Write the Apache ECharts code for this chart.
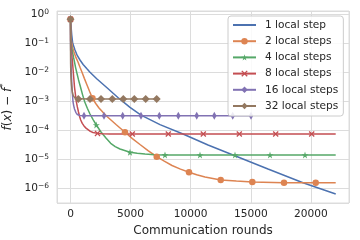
<!DOCTYPE html>
<html><head><meta charset="utf-8">
<script src="https://cdn.jsdelivr.net/npm/echarts@6/dist/echarts.min.js"></script>
<style>html,body{margin:0;padding:0;background:#fff}#c{width:360px;height:240px}</style>
</head><body><div id="c"></div>
<script>
const seriesNames = ['1 local step', '2 local steps', '4 local steps', '8 local steps', '16 local steps', '32 local steps'];
const xTicks = [0, 5000, 10000, 15000, 20000];

const x1 = [0, 100, 183, 374, 560, 790, 1050, 1348, 1622, 2205, 3012, 4035, 4950, 5866, 7446, 9360, 11440, 13520, 16430, 19340, 22065];
const y1 = [0.672, 0.2, 0.0995, 0.0585, 0.038, 0.0264, 0.0185, 0.0134, 0.0100, 0.00582, 0.00296, 0.00124, 6.10e-4, 3.30e-4, 1.55e-4, 7.33e-5, 3.06e-5, 1.38e-5, 4.53e-6, 1.52e-6, 6.21e-7];
const m1 = [];

const x2 = [0, 30, 67, 160, 291, 450, 624, 790, 957, 1160, 1373, 1600, 1830, 2100, 2371, 2700, 3037, 3786, 4534, 5150, 5782, 6450, 7172, 7800, 8445, 9150, 9859, 10500, 11190, 12497, 13800, 15126, 17763, 20401, 22065];
const y2 = [0.672, 0.25, 0.129, 0.075, 0.0499, 0.0325, 0.0225, 0.0148, 0.00993, 0.0060, 0.00361, 0.0021, 0.00125, 8.3e-4, 5.80e-4, 4.1e-4, 2.95e-4, 1.56e-4, 8.39e-5, 5.1e-5, 3.18e-5, 1.95e-5, 1.21e-5, 8.5e-6, 5.98e-6, 4.5e-6, 3.48e-6, 2.85e-6, 2.40e-6, 1.89e-6, 1.73e-6, 1.61e-6, 1.53e-6, 1.52e-6, 1.52e-6];
const m2 = [0, 12, 18, 22, 26, 29, 31, 32, 33];

const x3 = [0, 10, 25, 90, 166, 250, 333, 420, 516, 670, 832, 1000, 1181, 1400, 1622, 1880, 2147, 2538, 2950, 3345, 3720, 4118, 4950, 5550, 6198, 7000, 7862, 10774, 13686, 16598, 19510, 22065];
const y3 = [0.672, 0.3, 0.129, 0.075, 0.0499, 0.033, 0.0225, 0.0147, 0.00993, 0.0054, 0.00308, 0.00168, 9.58e-4, 5.7e-4, 3.60e-4, 2.3e-4, 1.50e-4, 8.60e-5, 5.3e-5, 3.50e-5, 2.7e-5, 2.22e-5, 1.71e-5, 1.58e-5, 1.49e-5, 1.42e-5, 1.39e-5, 1.38e-5, 1.38e-5, 1.38e-5, 1.38e-5, 1.38e-5];
const m3 = [0, 16, 22, 26, 27, 28, 29, 30];

const x4 = [0, 4, 8, 40, 83, 166, 233, 333, 483, 570, 666, 750, 849, 980, 1123, 1290, 1456, 1650, 1872, 2246, 2700, 3286, 5142, 8137, 11049, 14044, 17072, 20068, 22065];
const y4 = [0.672, 0.3, 0.129, 0.08, 0.0499, 0.0225, 0.00993, 0.00308, 9.58e-4, 6.3e-4, 4.22e-4, 3.0e-4, 2.23e-4, 1.7e-4, 1.39e-4, 1.17e-4, 1.01e-4, 9.0e-5, 8.26e-5, 7.7e-5, 7.45e-5, 7.33e-5, 7.33e-5, 7.33e-5, 7.33e-5, 7.33e-5, 7.33e-5, 7.33e-5, 7.33e-5];
const m4 = [0, 19, 22, 23, 24, 25, 26, 27];

const x5 = [0, 3, 8, 35, 67, 125, 208, 270, 333, 440, 566, 680, 790, 950, 1123, 2787, 4343, 5866, 7388, 8969, 10500, 11964, 13495, 15018];
const y5 = [0.672, 0.25, 0.087, 0.025, 0.00993, 0.00285, 9.58e-4, 6.9e-4, 5.36e-4, 4.1e-4, 3.46e-4, 3.27e-4, 3.19e-4, 3.15e-4, 3.14e-4, 3.14e-4, 3.14e-4, 3.14e-4, 3.14e-4, 3.14e-4, 3.14e-4, 3.14e-4, 3.14e-4, 3.14e-4];
const m5 = [0, 14, 15, 16, 17, 18, 19, 20, 21, 22, 23];

const x6 = [0, 1, 2, 10, 25, 50, 83, 125, 166, 230, 291, 360, 433, 540, 649, 1622, 2538, 3478, 4393, 5308, 6257, 7172];
const y6 = [0.672, 0.25, 0.0585, 0.02, 0.00993, 0.0058, 0.00361, 0.0025, 0.00191, 0.00155, 0.00139, 0.0013, 0.00124, 0.0012, 0.00119, 0.00119, 0.00119, 0.00119, 0.00119, 0.00119, 0.00119, 0.00119];
const m6 = [0, 14, 15, 16, 17, 18, 19, 20, 21];

const colors = ['#4C72B0', '#DD8452', '#55A868', '#C44E52', '#8172B3', '#937860'];
const starPath = 'path://M50,2 L61,38 L98,38 L68,60 L79,96 L50,74 L21,96 L32,60 L2,38 L39,38 Z';
const xPath = 'path://M0,15 L15,0 L50,35 L85,0 L100,15 L65,50 L100,85 L85,100 L50,65 L15,100 L0,85 L35,50 Z';
const symbols = ['circle', 'circle', starPath, xPath, 'diamond', 'diamond'];
const symbolSizes = [6, 6.5, 7, 6, [4.5, 8], [8, 8]];

function build(xs, ys, marks) {
  return xs.map((x, i) => marks.indexOf(i) >= 0 ? [x, ys[i]] : { value: [x, ys[i]], symbol: 'none' });
}
const all = [[x1, y1, m1], [x2, y2, m2], [x3, y3, m3], [x4, y4, m4], [x5, y5, m5], [x6, y6, m6]];
const sup = {'0':'0','1':'1','2':'2','3':'3','4':'4','5':'5','6':'6','-':'\u2212'};

const chart = echarts.init(document.getElementById('c'), null, { renderer: 'canvas' });
const font = 'DejaVu Sans';
chart.setOption({
  animation: false,
  backgroundColor: '#fff',
  textStyle: { fontFamily: font },
  grid: { left: 57, right: 11, top: 11, bottom: 37, show: true, borderColor: '#dcdcdc', borderWidth: 1, containLabel: false, outerBoundsMode: 'none' },
  legend: {
    orient: 'vertical', left: 228, top: 16,
    padding: [3, 5, 4, 4], itemWidth: 23, itemHeight: 8, itemGap: 4.2,
    backgroundColor: 'rgba(255,255,255,0.85)', borderColor: '#cccccc', borderWidth: 1, borderRadius: 3,
    textStyle: { fontFamily: font, fontSize: 10.6, color: '#262626', lineHeight: 12, padding: [0, 0, 0, 4] },
    data: seriesNames.map((n, i) => i === 0 ? { name: n, itemStyle: { opacity: 0 } } : { name: n })
  },
  xAxis: {
    type: 'value', min: -1123, max: 23170, splitNumber: 5,
    axisLine: { show: false }, axisTick: { show: false },
    splitLine: { show: true, lineStyle: { color: '#dcdcdc', width: 1 } },
    axisLabel: { margin: 6, fontSize: 10.6, color: '#262626', fontFamily: font,
      formatter: v => (xTicks.indexOf(v) >= 0 ? String(v) : '') },
    name: 'Communication rounds', nameLocation: 'middle', nameGap: 18,
    nameTextStyle: { fontSize: 12, color: '#262626', fontFamily: font }
  },
  yAxis: {
    type: 'log', logBase: 10, min: 3.03e-7, max: 1.30,
    axisLine: { show: false }, axisTick: { show: false },
    splitLine: { show: true, lineStyle: { color: '#dcdcdc', width: 1 } },
    axisLabel: { margin: 8, color: '#262626', fontFamily: font,
      formatter: v => {
        const e = Math.log10(v); const r = Math.round(e);
        if (Math.abs(e - r) > 1e-6) return '';
        const s = String(r).split('').map(c => sup[c]).join('');
        return '{b|10}{s|' + s + '}';
      },
      rich: {
        b: { fontSize: 10.6, color: '#262626', fontFamily: font, lineHeight: 12, padding: [2, 0, 2, 0] },
        s: { fontSize: 7.5, color: '#262626', fontFamily: font, lineHeight: 8, verticalAlign: 'top' }
      }
    },
    name: '{i|f}{n|(}{i|x}{n|) \u2212 }{i|f}{s|*}', nameLocation: 'middle', nameGap: 31, nameRotate: 90,
    nameTextStyle: { color: '#262626', fontFamily: font,
      rich: {
        i: { fontSize: 12, fontStyle: 'italic', color: '#262626', fontFamily: font, lineHeight: 14, padding: [2, 0, 0, 0] },
        n: { fontSize: 12, color: '#262626', fontFamily: font, lineHeight: 14, padding: [2, 0, 0, 0] },
        s: { fontSize: 8.5, color: '#262626', fontFamily: font, lineHeight: 9, verticalAlign: 'top' }
      }
    }
  },
  series: all.map((d, i) => ({
    name: seriesNames[i], type: 'line',
    data: build(d[0], d[1], d[2]),
    smooth: false,
    showSymbol: true, showAllSymbol: true,
    symbol: symbols[i], symbolSize: symbolSizes[i],
    lineStyle: { color: colors[i], width: 1.5 },
    itemStyle: { color: colors[i] },
    emphasis: { disabled: true }
  }))
});
</script></body></html>
